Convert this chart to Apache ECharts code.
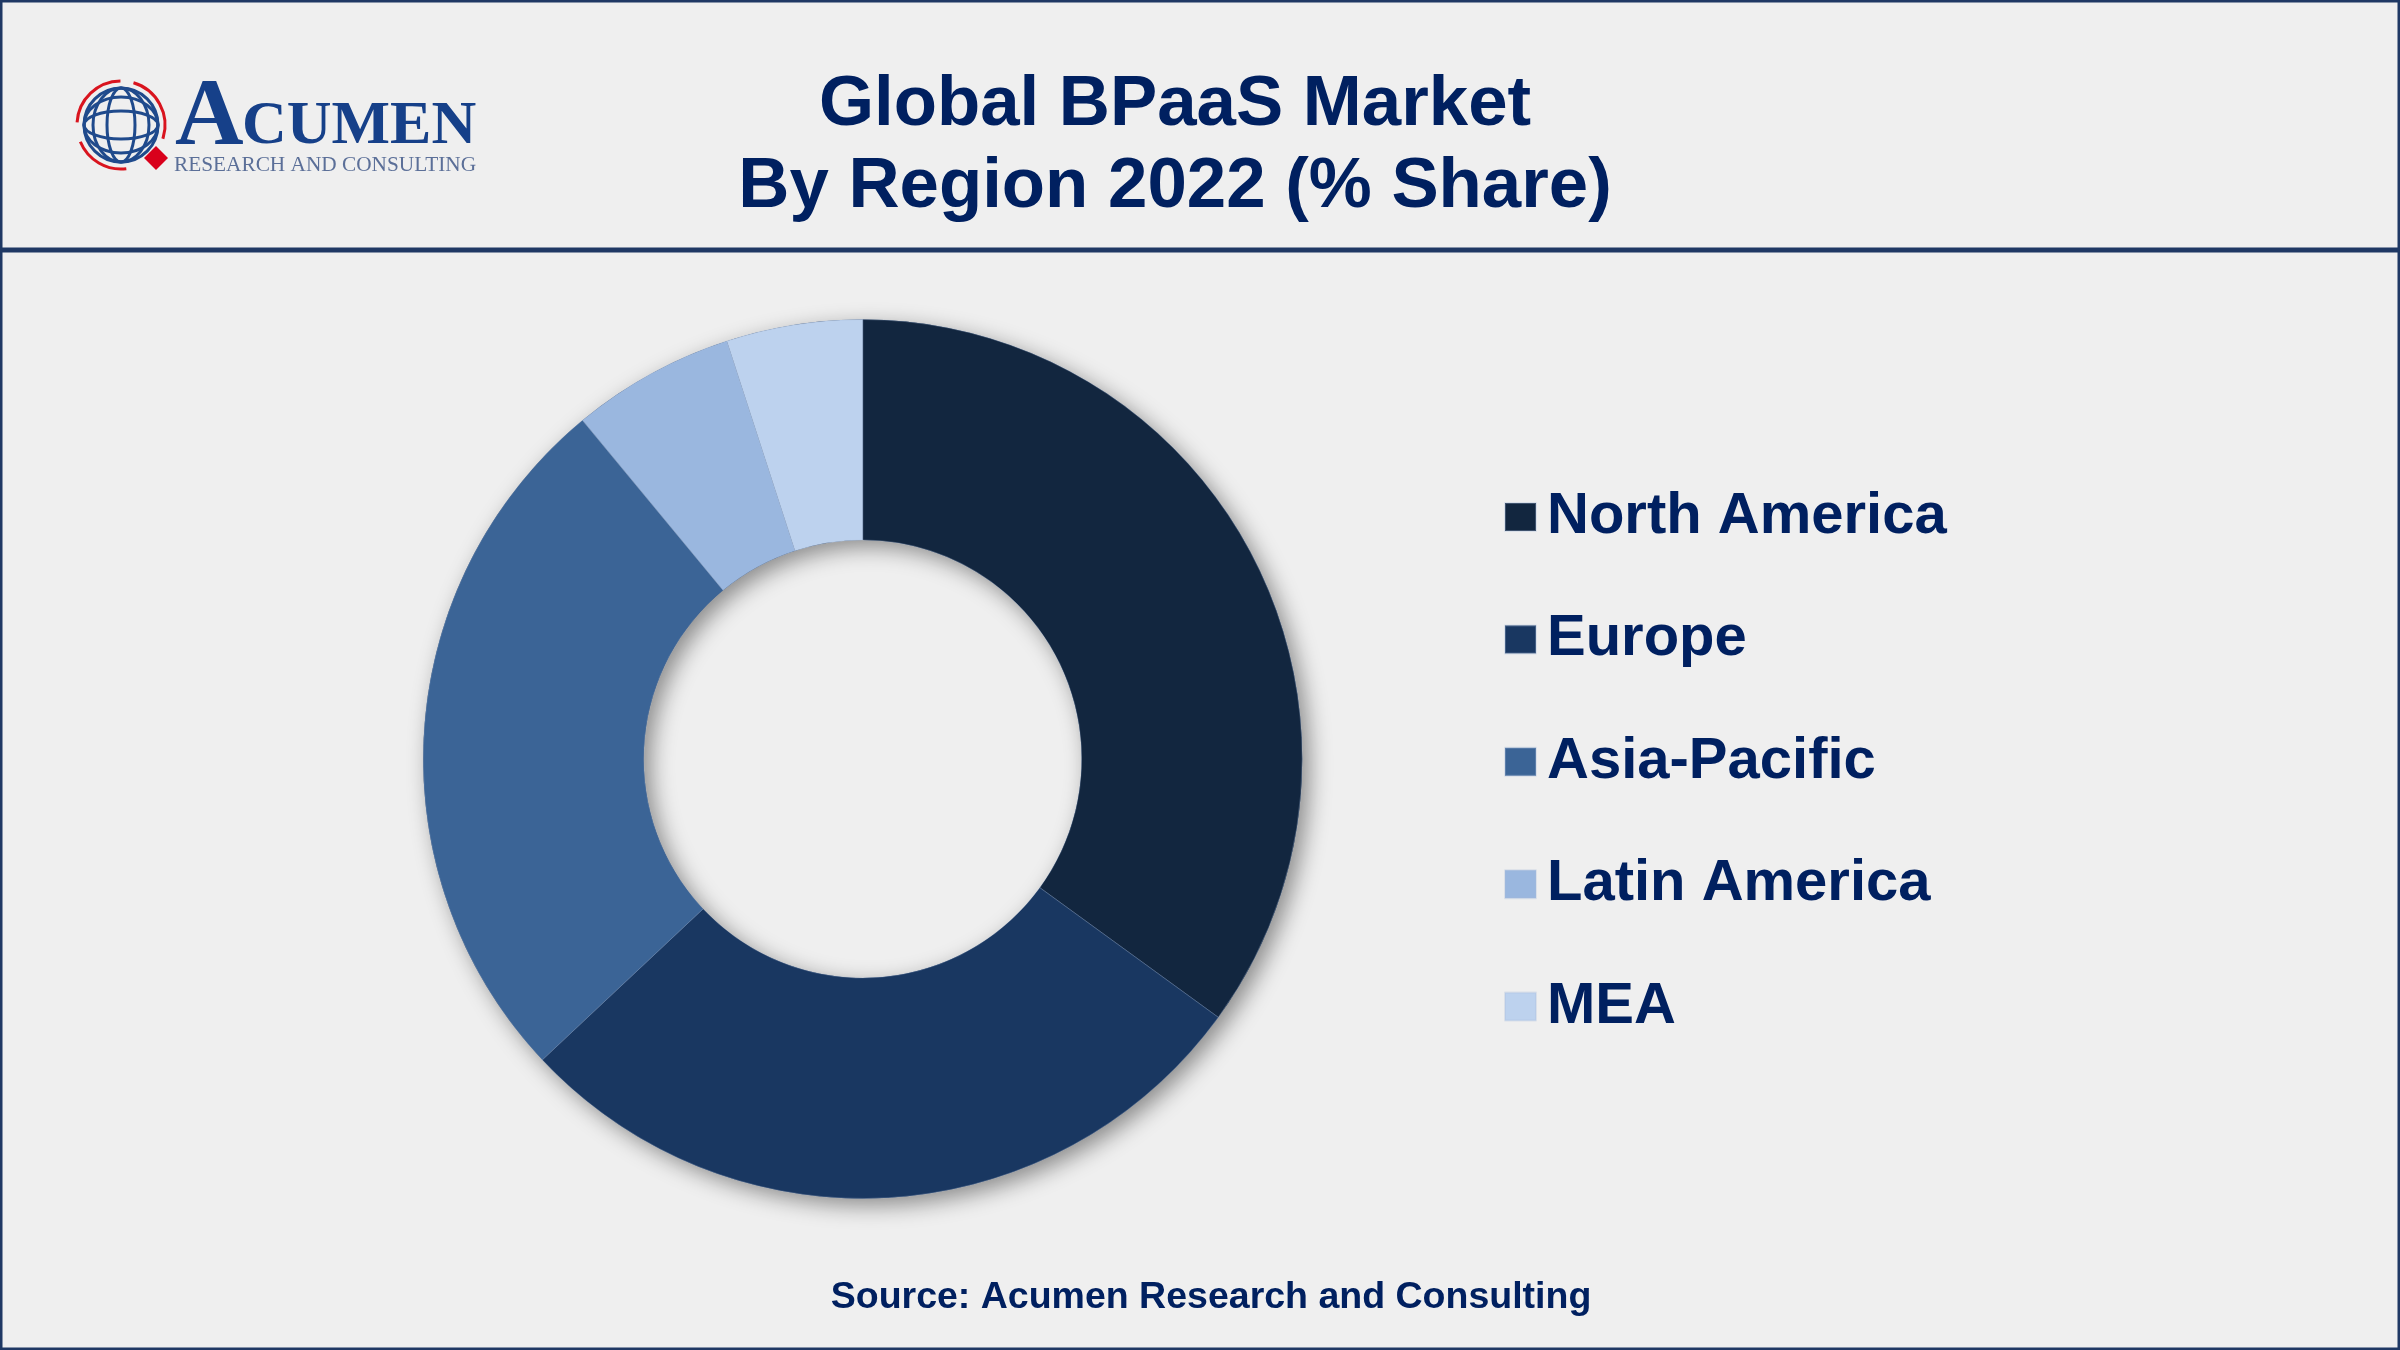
<!DOCTYPE html>
<html>
<head>
<meta charset="utf-8">
<title>Global BPaaS Market</title>
<script src="https://cdn.jsdelivr.net/npm/echarts@6/dist/echarts.min.js"></script>
<style>
html,body{margin:0;padding:0;background:#efefef}
#chart{width:2400px;height:1350px}
</style>
</head>
<body>
<div id="chart"></div>
<script>
var regions = ['North America', 'Europe', 'Asia-Pacific', 'Latin America', 'MEA']
var shares = [35, 28, 26, 6, 5]
var colors = ['#12263f', '#193761', '#3b6496', '#9ab7df', '#bdd2ee']
var titleLines = ['Global BPaaS Market', 'By Region 2022 (% Share)']
var sourceText = 'Source: Acumen Research and Consulting'

var navy = '#002060'
var lineColor = '#1f3864'
var sans = '"Liberation Sans", Arial, sans-serif'
var serif = '"Liberation Serif", "Times New Roman", serif'
var center = [862.7, 759]
var radius = [219, 439.5]

var total = shares.reduce(function (a, b) { return a + b }, 0)

// logo, globe + red arrows + wordmark
function logo() {
    var items = []
    var stroke = { stroke: '#1f4a8c', fill: null, lineWidth: 3 }
    items.push({ type: 'circle', shape: { cx: 121, cy: 125, r: 37 }, style: stroke })
    items.push({ type: 'ellipse', shape: { cx: 121, cy: 125, rx: 14, ry: 37 }, style: stroke })
    items.push({ type: 'ellipse', shape: { cx: 121, cy: 125, rx: 28, ry: 37 }, style: stroke })
    items.push({ type: 'ellipse', shape: { cx: 121, cy: 125, rx: 37, ry: 14 }, style: stroke })
    items.push({ type: 'ellipse', shape: { cx: 121, cy: 125, rx: 37, ry: 28 }, style: stroke })
    var red = { stroke: '#d9141e', fill: null, lineWidth: 3 }
    items.push({ type: 'arc', shape: { cx: 121, cy: 125, r: 44, startAngle: 3.2, endAngle: 4.7 }, style: red })
    items.push({ type: 'arc', shape: { cx: 121, cy: 125, r: 44, startAngle: 5.0, endAngle: 6.6 }, style: red })
    items.push({ type: 'arc', shape: { cx: 121, cy: 125, r: 44, startAngle: 1.45, endAngle: 2.75 }, style: red })
    items.push({ type: 'polygon', shape: { points: [[156, 146], [168, 158], [156, 170], [144, 158]] }, style: { fill: '#d9001b' } })
    items.push({ type: 'text', left: 175, top: 72, style: { text: 'A', font: 'bold 95px ' + serif, fill: '#164089' } })
    items.push({ type: 'text', left: 242, top: 96, style: { text: 'CUMEN', font: 'bold 62px ' + serif, fill: '#164089' } })
    items.push({ type: 'text', left: 174, top: 155, style: { text: 'RESEARCH AND CONSULTING', font: '21.3px ' + serif, fill: '#5b6f98' } })
    return items
}

var frame = [
    { type: 'rect', shape: { x: 1, y: 1, width: 2398, height: 1348 }, style: { fill: null, stroke: lineColor, lineWidth: 3 } },
    { type: 'rect', shape: { x: 0, y: 247.5, width: 2400, height: 5 }, style: { fill: lineColor } }
]

var texts = [
    { type: 'text', x: 1175, y: 105, style: { text: titleLines[0], font: 'bold 70.8px ' + sans, fill: navy, align: 'center', verticalAlign: 'middle' } },
    { type: 'text', x: 1175, y: 187, style: { text: titleLines[1], font: 'bold 70.8px ' + sans, fill: navy, align: 'center', verticalAlign: 'middle' } },
    { type: 'text', x: 1211, y: 1298, style: { text: sourceText, font: 'bold 37.5px ' + sans, fill: navy, align: 'center', verticalAlign: 'middle' } }
]

var myChart = echarts.init(document.getElementById('chart'), null, { renderer: 'canvas' })

myChart.setOption({
    backgroundColor: '#efefef',
    animation: false,
    legend: {
        orient: 'vertical',
        left: 1504,
        top: 486,
        padding: 0,
        data: regions,
        icon: 'rect',
        itemWidth: 31,
        itemHeight: 28,
        itemGap: 60.4,
        selectedMode: false,
        textStyle: { color: navy, fontFamily: sans, fontWeight: 'bold', fontSize: 58, lineHeight: 62, padding: [0, 0, 0, 6] }
    },
    series: [
        {
            // only there to throw one shadow for the whole ring
            type: 'pie',
            silent: true,
            center: center,
            radius: radius,
            label: { show: false },
            labelLine: { show: false },
            itemStyle: { color: '#1a3050', shadowBlur: 22, shadowOffsetX: 7, shadowOffsetY: 7, shadowColor: 'rgba(0,0,0,0.42)' },
            data: [{ value: total, name: 'ring' }]
        },
        {
            type: 'pie',
            silent: true,
            center: center,
            radius: radius,
            startAngle: 90,
            label: { show: false },
            labelLine: { show: false },
            itemStyle: { borderColor: 'rgba(170,190,220,0.3)', borderWidth: 1 },
            data: regions.map(function (name, i) {
                return { name: name, value: shares[i], itemStyle: { color: colors[i] } }
            })
        }
    ],
    graphic: { elements: logo().concat(frame, texts) }
})
</script>
</body>
</html>
